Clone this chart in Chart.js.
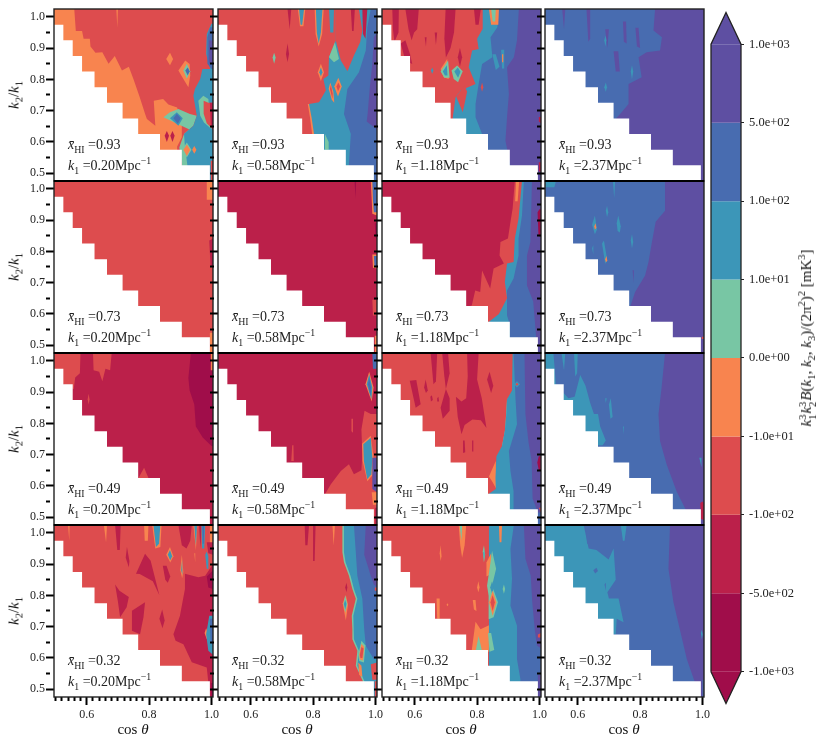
<!DOCTYPE html>
<html>
<head>
<meta charset="utf-8">
<title>Bispectrum contours</title>
<script src="https://cdn.jsdelivr.net/npm/chart.js@4"></script>
<style>
  html, body { margin: 0; padding: 0; background: #fff; }
  #stage { position: relative; width: 831px; height: 746px; overflow: hidden; font-family: "Liberation Serif", serif; color: #111; }
  #stage canvas { position: absolute; }
  .note, .axis-label { position: absolute; white-space: nowrap; }
  .note { font-size: 14px; line-height: 16px; color: #222; }
  .note sub, .note sup, .axis-label sub, .axis-label sup { font-size: 70%; line-height: 0; }
  .axis-label { font-size: 15px; transform: translate(-50%, -50%); }
  .axis-label.rot { transform: translate(-50%, -50%) rotate(-90deg); }
  .ss { display: inline-block; vertical-align: middle; font-size: 70%; line-height: 10px; text-align: left; margin-right: 1px; }
  .ss span { display: block; }
</style>
</head>
<body>
<div id="stage"></div>
<script>
// ─── Levels and labels ───
const bandColors = ['#A00D4A', '#BB204A', '#DD4C4E', '#F8844F', '#78C6A4', '#3C96B8', '#486CB0', '#5E4FA2'];
const cbarLabels = ['-1.0e+03', '-5.0e+02', '-1.0e+02', '-1.0e+01', '0.0e+00', '1.0e+01', '1.0e+02', '5.0e+02', '1.0e+03'];
const xhiValues = ['0.93', '0.73', '0.49', '0.32'];
const k1Values = ['0.20', '0.58', '1.18', '2.37'];
const xTicks = [0.5, 0.52, 0.54, 0.56, 0.58, 0.6, 0.62, 0.64, 0.66, 0.68, 0.7, 0.72, 0.74, 0.76, 0.78, 0.8, 0.82, 0.84, 0.86, 0.88, 0.9, 0.92, 0.94, 0.96, 0.98, 1.0];
const xMajor = [0.6, 0.8, 1.0];
const yTicks = [0.5, 0.55, 0.6, 0.65, 0.7, 0.75, 0.8, 0.85, 0.9, 0.95, 1.0];
const yMajor = [0.5, 0.6, 0.7, 0.8, 0.9, 1.0];

// no-data staircase: cos theta edge of each k2/k1 step
const maskCos = [0.525, 0.555, 0.585, 0.625, 0.665, 0.715, 0.765, 0.835, 0.905, 0.995];
const maskK = [0.975, 0.925, 0.875, 0.825, 0.775, 0.725, 0.675, 0.625, 0.575, 0.525];

// ─── Contours ───
// each entry: [level index, cos,k, cos,k, ...] in thousandths, painted in order
const baseLevels = [2, 2, 2, 6, 2, 1, 1, 6, 1, 1, 2, 6, 2, 2, 2, 6];

const c093_020 = [
  [3, 495,1025, 560,1025, 565,955, 585,955, 590,930, 610,930, 612,905, 628,885, 650,887, 670,850, 690,875, 713,828, 735,840, 750,800, 770,743, 787,690, 793,673, 820,652, 815,732, 845,737, 862,720, 890,710, 905,660, 905,615, 890,585, 890,475, 495,475],
  [3, 695,1025, 700,1025, 698,965],
  [3, 855,865, 867,885, 877,865, 867,845],
  [1, 850,620, 857,635, 864,620, 857,600],
  [1, 868,620, 875,635, 882,620, 875,600],
  [3, 894,828, 916,860, 930,849, 932,812, 926,775, 910,801],
  [4, 910,828, 921,850, 932,826, 921,802],
  [6, 916,828, 924,838, 930,826, 924,812],
  [4, 846,679, 867,695, 894,705, 931,689, 953,684, 942,652, 912,625, 897,582, 905,530, 905,475, 925,475, 925,580, 960,625],
  [5, 1000,978, 985,945, 983,881, 996,833, 971,833, 964,801, 947,769, 942,748, 953,684, 942,652, 912,625, 915,585, 923,524, 923,475, 1005,475, 1005,978],
  [6, 996,967, 987,935, 987,850, 1000,833, 1005,833, 1005,967],
  [7, 993,924, 993,850, 1005,850, 1005,924],
  [5, 867,676, 889,695, 908,676, 894,652],
  [6, 878,676, 889,690, 902,676, 892,658],
  [4, 958,732, 974,748, 990,737, 1000,641, 976,662, 964,684],
  [2, 975,732, 990,725, 1005,725, 1005,640, 985,660, 975,690],
  [1, 995,725, 1005,725, 1005,640, 998,650],
  [4, 906,575, 921,598, 936,575, 921,550],
  [3, 910,575, 921,592, 932,575, 921,555],
  [3, 938,575, 945,587, 952,575, 945,562],
  [2, 998,540, 1005,540, 1005,475, 998,475]
];
const c093_058 = [
  [1, 718,1025, 730,1025, 725,960],
  [3, 751,1025, 775,1025, 769,970, 758,970],
  [5, 755,1025, 771,1025, 765,975, 760,975],
  [3, 805,1025, 834,1025, 829,945, 818,905, 808,945],
  [5, 809,1025, 830,1025, 825,950, 818,915, 812,950],
  [5, 851,1025, 867,1025, 865,950, 855,950],
  [1, 713,881, 718,915, 723,881, 718,855],
  [4, 670,870, 675,885, 680,870, 675,850],
  [3, 783,721, 790,679, 797,625, 810,625, 810,721],
  [5, 873,924, 851,871, 849,812, 833,801, 841,764, 819,727, 787,721, 795,679, 803,625, 803,475, 1005,475, 1005,1025, 873,1025],
  [2, 873,924, 889,860, 910,826, 931,876, 951,919, 958,956, 947,1025, 873,1025],
  [1, 921,1025, 934,1025, 930,955, 925,955],
  [1, 958,1025, 974,1025, 968,930, 960,945],
  [6, 985,1025, 974,967, 969,892, 947,823, 910,769, 899,689, 921,625, 915,529, 915,475, 1005,475, 1005,1025],
  [7, 1005,950, 995,935, 990,850, 982,775, 975,690, 972,665, 1005,640],
  [3, 815,823, 825,850, 835,823, 825,795],
  [5, 820,823, 825,838, 830,823, 825,810],
  [3, 868,777, 881,805, 892,777, 880,745],
  [2, 875,777, 881,790, 887,777, 880,762],
  [3, 850,770, 855,790, 865,760, 868,725, 860,735],
  [2, 854,770, 857,782, 863,755, 862,738],
  [4, 851,871, 870,919, 883,865, 867,855],
  [4, 838,625, 850,600, 850,575, 838,575]
];
const c093_118 = [
  [1, 528,1025, 549,1025, 548,950, 535,920, 530,960],
  [1, 570,1025, 613,1025, 608,960, 598,950, 590,925, 580,960],
  [1, 555,915, 570,925, 585,880, 592,849, 570,860],
  [1, 699,1025, 731,1025, 726,950, 715,900, 700,870, 695,930],
  [1, 738,871, 745,900, 752,871, 745,840],
  [1, 790,1025, 812,1025, 805,975, 795,975],
  [1, 632,935, 638,935, 636,905],
  [1, 664,950, 672,950, 668,910],
  [5, 818,1025, 818,962, 800,930, 805,897, 784,892, 773,839, 795,785, 747,764, 731,743, 722,679, 722,475, 1005,475, 1005,1025],
  [2, 733,745, 754,695, 768,760, 760,780],
  [6, 870,1025, 865,967, 843,935, 849,871, 816,849, 805,785, 795,721, 795,679, 816,625, 835,575, 835,475, 1005,475, 1005,1025],
  [5, 849,880, 860,880, 872,840, 860,830],
  [3, 838,1025, 870,1025, 868,975, 845,975],
  [4, 845,1025, 860,1025, 858,985, 850,985],
  [3, 683,833, 704,865, 709,801, 693,807],
  [4, 683,825, 707,860, 712,805, 695,805],
  [5, 690,825, 703,845, 705,812, 697,812],
  [4, 718,828, 736,844, 754,826, 739,791, 725,801],
  [5, 727,825, 738,838, 747,824, 739,805],
  [5, 652,828, 656,838, 660,828, 656,818],
  [5, 877,895, 887,895, 887,835, 880,835],
  [3, 880,880, 884,880, 884,855, 880,855],
  [2, 812,775, 816,790, 820,775, 816,760],
  [7, 934,1025, 928,925, 918,871, 896,839, 902,753, 896,679, 891,604, 907,524, 907,475, 1005,475, 1005,1025],
  [1, 998,680, 1005,680, 1005,660, 998,665],
  [1, 998,535, 1005,535, 1005,505, 998,505]
];
const c093_237 = [
  [7, 848,1025, 843,956, 870,935, 864,892, 821,887, 795,871, 805,807, 763,785, 763,721, 736,689, 722,674, 722,475, 1005,475, 1005,1025],
  [7, 550,1025, 560,1025, 556,960],
  [7, 628,1025, 640,1025, 640,930, 634,920],
  [7, 688,960, 700,960, 695,900],
  [7, 715,890, 730,890, 735,825, 722,825],
  [7, 745,985, 755,985, 757,915, 748,920],
  [7, 785,965, 795,965, 800,900, 790,905],
  [5, 770,825, 774,845, 778,825, 774,800],
  [5, 685,925, 689,940, 692,925, 689,905],
  [5, 685,775, 690,790, 694,775, 690,760]
];
const c073_020 = [
  [3, 985,1025, 1005,1025, 1005,965, 985,965],
  [1, 993,835, 1005,840, 1005,750, 997,755],
  [3, 995,540, 1005,540, 1005,475, 995,475]
];
const c073_058 = [
  [3, 985,1025, 1005,1025, 1005,915, 990,920, 988,965],
  [6, 990,1025, 1005,1025, 1005,925, 995,925, 992,965],
  [3, 990,790, 1005,790, 1005,745, 992,748],
  [6, 995,785, 1005,785, 1005,750, 997,752],
  [2, 990,645, 1005,645, 1005,595, 992,595],
  [0, 933,1025, 938,1025, 936,970],
  [0, 998,890, 1005,890, 1005,840, 1000,845],
  [3, 998,530, 1005,530, 1005,475, 998,475]
];
const c073_118 = [
  [2, 921,1025, 914,937, 907,894, 899,841, 875,830, 872,787, 886,761, 853,745, 842,681, 816,739, 810,670, 794,675, 783,627, 765,622, 765,475, 1005,475, 1005,1025],
  [3, 925,1025, 935,1025, 930,960, 922,960],
  [5, 944,1025, 933,905, 921,841, 917,766, 896,761, 889,702, 896,650, 870,600, 837,574, 837,475, 1005,475, 1005,1025],
  [6, 950,1025, 944,915, 933,841, 933,787, 917,713, 896,675, 896,595, 905,566, 905,475, 1005,475, 1005,1025],
  [7, 976,1025, 971,830, 960,787, 960,691, 980,640, 990,520, 990,475, 1005,475, 1005,1025],
  [0, 994,925, 1000,935, 1005,935, 1005,845, 997,850]
];
const c073_237 = [
  [7, 880,1025, 880,930, 850,895, 838,830, 827,766, 816,723, 784,670, 768,622, 768,475, 1005,475, 1005,1025],
  [5, 646,885, 655,915, 662,870, 655,855],
  [3, 653,880, 657,890, 660,875, 655,870],
  [5, 690,930, 694,945, 698,925, 694,910],
  [5, 725,890, 730,915, 738,880, 735,860, 728,865],
  [5, 770,835, 774,855, 778,830, 774,810],
  [5, 678,825, 684,835, 695,770, 688,760],
  [3, 688,775, 692,785, 695,770, 690,765],
  [5, 646,810, 650,820, 650,790],
  [5, 713,1025, 720,1025, 717,970],
  [5, 495,1025, 530,1025, 525,1005, 495,1005],
  [7, 776,740, 780,740, 779,700],
  [2, 998,527, 1005,527, 1005,520, 998,520]
];
const c049_020 = [
  [2, 495,1025, 580,1025, 578,960, 563,947, 558,909, 525,925, 495,975],
  [2, 620,1025, 680,1025, 675,970, 660,975, 650,935, 640,965, 622,970],
  [0, 934,1025, 926,945, 930,905, 945,860, 950,790, 972,755, 1000,728, 1005,728, 1005,1025],
  [3, 998,1025, 1005,1025, 1005,970, 998,970],
  [2, 603,877, 606,895, 609,877, 606,860],
  [2, 766,625, 784,658, 798,625]
];
const c049_058 = [
  [2, 839,575, 857,605, 889,648, 915,669, 931,637, 955,650, 958,700, 955,780, 965,840, 985,830, 1005,830, 1005,475, 839,475],
  [2, 923,815, 928,815, 928,770, 923,775],
  [2, 733,730, 737,730, 738,680, 730,680],
  [3, 957,735, 985,760, 994,690, 991,635, 974,615, 959,680],
  [5, 961,733, 985,754, 990,690, 987,637, 974,621, 963,680],
  [7, 990,690, 1005,690, 1005,580, 990,590],
  [3, 968,925, 980,965, 994,915, 988,870],
  [5, 972,925, 980,957, 990,915, 987,877],
  [6, 976,925, 980,945, 986,915, 984,890],
  [6, 990,1025, 1005,1025, 1005,975, 992,975],
  [3, 988,580, 1005,580, 1005,540, 992,540],
  [1, 998,530, 1005,530, 1005,475, 998,475]
];
const c049_118 = [
  [1, 651,1025, 672,1025, 668,935, 660,925],
  [1, 688,1025, 707,1025, 712,960, 700,910, 695,950],
  [1, 768,1025, 805,1025, 800,940, 815,880, 830,785, 812,810, 785,812, 760,795, 750,765, 738,820, 732,885, 750,870, 765,880, 770,950],
  [1, 584,936, 605,939, 619,861, 603,850],
  [1, 630,915, 635,940, 642,905, 636,897],
  [1, 700,910, 712,880, 712,840, 690,815, 683,850],
  [1, 832,940, 840,965, 852,920, 845,897],
  [1, 650,885, 655,890, 658,875, 652,870],
  [1, 672,880, 676,885, 678,870, 672,870],
  [1, 755,745, 760,745, 762,708, 755,705],
  [1, 784,745, 788,745, 788,710, 784,710],
  [3, 838,630, 860,680, 862,590, 848,615],
  [4, 890,780, 896,877, 902,882, 898,780, 886,728, 880,728],
  [5, 914,1025, 912,905, 896,877, 893,820, 889,776, 880,728, 862,695, 859,625, 860,590, 838,575, 838,475, 1005,475, 1005,1025],
  [6, 917,1025, 921,936, 923,883, 928,797, 902,712, 907,648, 917,583, 917,475, 1005,475, 1005,1025],
  [7, 952,1025, 955,830, 965,740, 975,680, 978,560, 995,515, 1005,515, 1005,1025],
  [0, 993,675, 998,695, 1005,695, 1005,650, 998,650],
  [5, 918,925, 928,935, 938,925, 928,915],
  [2, 923,925, 928,930, 933,925, 928,920],
  [2, 998,530, 1005,530, 1005,515]
];
const c049_237 = [
  [5, 495,1025, 522,1025, 530,925, 570,880, 590,885, 608,955, 625,920, 640,865, 652,830, 665,830, 672,790, 690,745, 680,730, 600,730, 495,730],
  [5, 588,1025, 600,1025, 598,960, 592,950],
  [5, 548,1025, 560,1025, 556,970],
  [5, 700,860, 706,880, 712,820, 705,815],
  [5, 745,790, 748,790, 748,765],
  [5, 688,880, 693,880, 690,865],
  [7, 880,1025, 869,915, 859,829, 864,744, 885,669, 917,583, 949,519, 949,475, 1005,475, 1005,1025],
  [5, 990,690, 997,690, 997,660],
  [1, 993,545, 1000,550, 1005,545, 1005,490, 995,495]
];
const c032_020 = [
  [3, 540,1025, 545,1025, 544,975],
  [3, 655,1025, 665,1025, 662,970],
  [3, 784,1025, 798,1025, 796,975, 786,975],
  [3, 810,1025, 840,1025, 836,955, 820,950],
  [5, 814,1025, 836,1025, 832,965, 822,955],
  [1, 691,1025, 709,1025, 706,945, 698,945],
  [1, 729,955, 737,910, 735,890, 725,920],
  [1, 758,869, 787,933, 805,911, 833,800, 812,845, 770,868],
  [1, 691,835, 705,815, 735,795, 728,762, 707,730, 700,780],
  [1, 745,751, 787,778, 782,730, 771,676, 745,687],
  [1, 833,725, 842,755, 850,720, 843,695],
  [1, 844,895, 856,895, 868,860, 860,840, 852,850],
  [1, 894,1025, 937,1025, 932,975, 920,950, 905,960],
  [1, 878,676, 899,735, 915,820, 915,869, 958,858, 980,863, 1005,900, 1005,475, 996,475, 990,521, 985,569, 937,586, 910,644, 885,655],
  [0, 985,860, 1005,880, 1005,820, 990,825],
  [0, 998,520, 1005,520, 1005,475, 998,475],
  [3, 978,680, 983,695, 990,676, 985,660],
  [5, 993,735, 1005,735, 1005,610, 990,623, 983,676],
  [6, 995,725, 1005,725, 1005,640, 997,650],
  [3, 855,930, 867,955, 878,925, 868,905],
  [5, 860,930, 867,945, 874,925, 868,912],
  [3, 900,880, 905,930, 910,875, 906,855],
  [5, 903,880, 906,915, 908,875, 906,865],
  [3, 942,1025, 955,1025, 950,945],
  [5, 945,1025, 954,1025, 950,960],
  [1, 960,1025, 968,1025, 965,950],
  [5, 968,1025, 980,1025, 977,950, 970,950],
  [6, 971,1025, 977,1025, 975,965, 972,965],
  [5, 980,930, 985,940, 990,925, 990,885, 985,885],
  [3, 945,935, 948,935, 948,905],
  [3, 995,1025, 1005,1025, 1005,965, 995,965],
  [1, 985,970, 1005,970, 1005,930, 990,935]
];
const c032_058 = [
  [1, 773,1025, 787,1025, 782,960, 775,960],
  [1, 800,1025, 808,1025, 805,910, 800,910],
  [3, 862,1025, 870,1025, 866,960],
  [1, 903,825, 907,840, 910,825, 907,810],
  [4, 894,1025, 894,938, 899,906, 915,863, 926,820, 937,789, 924,735, 926,692, 926,660, 942,623, 937,575, 959,527, 970,475, 1005,475, 1005,1025],
  [5, 899,1025, 899,938, 904,906, 920,863, 931,820, 942,789, 929,735, 931,692, 931,660, 947,623, 942,575, 964,527, 975,475, 1005,475, 1005,1025],
  [6, 931,1025, 937,938, 942,863, 958,789, 964,692, 969,639, 995,596, 1005,600, 1005,1025],
  [7, 969,1025, 964,930, 985,863, 995,835, 1005,825, 1005,1025],
  [3, 895,775, 905,800, 912,770, 905,720],
  [4, 897,772, 903,800, 910,772, 903,745],
  [5, 899,772, 903,785, 907,772, 903,755],
  [4, 945,610, 955,655, 968,640, 963,585, 948,590],
  [3, 948,610, 955,645, 964,635, 960,592, 950,595],
  [2, 950,610, 955,635, 962,630, 958,600, 952,600],
  [2, 985,580, 1005,585, 1005,530, 990,530],
  [2, 998,525, 1005,525, 1005,475, 998,475],
  [3, 945,585, 955,575, 958,540, 948,545],
  [2, 998,825, 1005,825, 1005,815, 998,815]
];
const c032_118 = [
  [3, 741,1025, 765,1025, 760,960, 752,920, 746,960],
  [4, 744,1025, 752,1025, 750,975],
  [3, 680,935, 683,960, 686,925, 683,910],
  [3, 800,825, 804,845, 808,825, 804,810],
  [3, 786,785, 795,785, 798,750, 790,755],
  [3, 702,770, 705,775, 708,770, 705,765],
  [3, 670,790, 680,790, 680,725, 672,725],
  [3, 783,625, 795,716, 811,692, 840,705, 840,620],
  [4, 796,625, 805,670, 815,625],
  [4, 818,940, 822,960, 826,930, 822,905],
  [5, 820,938, 822,950, 824,930, 822,915],
  [5, 838,1025, 1005,1025, 1005,475, 838,475],
  [3, 870,1025, 880,1025, 878,970, 872,970],
  [3, 830,905, 845,935, 848,870, 830,860],
  [4, 848,943, 861,885, 848,831, 867,778, 853,730, 837,724, 837,799, 832,831, 843,906],
  [5, 842,825, 848,845, 854,825, 848,805],
  [3, 838,778, 850,815, 862,778, 850,735],
  [2, 843,778, 850,800, 857,778, 850,750],
  [4, 835,680, 845,680, 855,625, 840,620],
  [6, 918,1025, 907,949, 912,853, 907,767, 928,703, 928,596, 939,532, 939,475, 1005,475, 1005,1025],
  [7, 950,1025, 955,917, 972,863, 977,778, 985,690, 992,640, 1005,630, 1005,1025],
  [7, 995,545, 1005,545, 1005,475, 995,475],
  [2, 995,675, 1005,680, 1005,665, 995,665],
  [4, 882,820, 886,835, 890,820, 886,805]
];
const c032_237 = [
  [5, 495,1025, 619,1025, 635,950, 660,945, 699,915, 715,950, 722,850, 695,810, 700,790, 731,790, 747,714, 725,725, 722,676, 495,676],
  [5, 738,1025, 757,1025, 750,975, 745,975],
  [6, 625,1025, 640,1025, 637,965, 630,965],
  [6, 650,880, 660,888, 665,878, 656,870],
  [6, 686,835, 690,840, 690,815],
  [7, 896,1025, 891,885, 907,778, 950,596, 976,521, 976,475, 1005,475, 1005,1025],
  [5, 995,680, 998,690, 1001,675, 998,660],
  [6, 1000,530, 1005,530, 1005,475, 1000,475]
];

const panelContours = [
  c093_020, c093_058, c093_118, c093_237,
  c073_020, c073_058, c073_118, c073_237,
  c049_020, c049_058, c049_118, c049_237,
  c032_020, c032_058, c032_118, c032_237
];

// ─── Layout ───
const colLeft = [54, 218, 382, 545];
const rowTop = [9, 181, 353, 525];
const panelW = 159;
const panelH = 172;
const panelPad = 10;
const cosRange = [0.495, 1.005];
const kRange = [0.475, 1.025];

const stage = document.getElementById('stage');

function addCanvas(left, top, w, h) {
  const c = document.createElement('canvas');
  c.width = w;
  c.height = h;
  c.style.left = left + 'px';
  c.style.top = top + 'px';
  c.style.width = w + 'px';
  c.style.height = h + 'px';
  stage.appendChild(c);
  return c;
}

function addText(cls, left, top, html) {
  const d = document.createElement('div');
  d.className = cls;
  d.style.left = left + 'px';
  d.style.top = top + 'px';
  d.innerHTML = html;
  stage.appendChild(d);
}

function isIn(list, v) {
  return list.some(m => Math.abs(m - v) < 1e-6);
}

// flat thousandths -> {x, y} points
function toPoints(flat) {
  const pts = [];
  for (let i = 0; i < flat.length; i += 2) pts.push({ x: flat[i] / 1000, y: flat[i + 1] / 1000 });
  return pts;
}

function shape(points, color) {
  return {
    data: points,
    showLine: true,
    fill: 'shape',
    tension: 0,
    backgroundColor: color,
    borderColor: color,
    borderWidth: 0,
    pointRadius: 0
  };
}

function maskPoints() {
  const pts = [{ x: cosRange[0], y: maskK[0] }];
  maskCos.forEach((c, i) => {
    pts.push({ x: c, y: maskK[i] });
    pts.push({ x: c, y: i + 1 < maskK.length ? maskK[i + 1] : kRange[0] });
  });
  pts.push({ x: cosRange[0], y: kRange[0] });
  return pts;
}

// frame of a panel; rows share a heavier edge where they touch
function spinePlugin(row) {
  return {
    id: 'spine',
    afterDraw(chart) {
      const { ctx, chartArea: a } = chart;
      ctx.save();
      ctx.strokeStyle = '#222';
      ctx.lineWidth = 1.4;
      ctx.strokeRect(a.left, a.top, a.right - a.left, a.bottom - a.top);
      if (row > 0) {
        ctx.strokeStyle = '#000';
        ctx.lineWidth = 2.2;
        ctx.beginPath();
        ctx.moveTo(a.left, a.top);
        ctx.lineTo(a.right, a.top);
        ctx.stroke();
      }
      ctx.restore();
    }
  };
}

// ─── Panels ───
function drawPanel(row, col) {
  const idx = row * 4 + col;
  const firstCol = col === 0;
  const lastRow = row === 3;
  const marginL = firstCol ? 50 : 10;
  const marginB = lastRow ? 30 : 0;
  const w = marginL + panelW + 12;
  const h = panelPad + panelH + (lastRow ? marginB : panelPad);
  const canvas = addCanvas(colLeft[col] - marginL, rowTop[row] - panelPad, w, h);

  const full = [
    { x: cosRange[0], y: kRange[0] }, { x: cosRange[1], y: kRange[0] },
    { x: cosRange[1], y: kRange[1] }, { x: cosRange[0], y: kRange[1] }
  ];
  const datasets = [shape(full, bandColors[baseLevels[idx]])];
  panelContours[idx].forEach(p => datasets.push(shape(toPoints(p.slice(1)), bandColors[p[0]])));
  datasets.push(shape(maskPoints(), '#ffffff'));
  // Chart.js paints the last dataset first
  datasets.reverse();

  new Chart(canvas, {
    type: 'scatter',
    data: { datasets },
    plugins: [spinePlugin(row)],
    options: {
      responsive: false,
      animation: false,
      events: [],
      layout: { padding: { top: panelPad, right: 12, bottom: lastRow ? 0 : panelPad, left: 0 } },
      plugins: { legend: { display: false }, tooltip: { enabled: false } },
      scales: {
        x: {
          type: 'linear',
          display: lastRow,
          min: cosRange[0],
          max: cosRange[1],
          afterBuildTicks: a => { a.ticks = xTicks.map(v => ({ value: v })); },
          afterFit: s => { s.height = marginB; },
          border: { display: false },
          grid: {
            drawOnChartArea: false,
            tickLength: 8,
            tickWidth: 2,
            tickColor: '#000',
            tickBorderDash: c => (isIn(xMajor, c.tick.value) ? [] : [4, 100])
          },
          ticks: {
            autoSkip: false,
            maxRotation: 0,
            minRotation: 0,
            padding: 3,
            color: '#222',
            font: { family: 'Liberation Serif', size: 12 },
            callback: v => (isIn(xMajor, v) ? v.toFixed(1) : '')
          }
        },
        y: {
          type: 'linear',
          min: kRange[0],
          max: kRange[1],
          afterBuildTicks: a => { a.ticks = yTicks.map(v => ({ value: v })); },
          afterFit: s => { s.width = marginL; },
          border: { display: false },
          grid: {
            drawOnChartArea: false,
            tickLength: 8,
            tickWidth: 2,
            tickColor: '#000',
            tickBorderDash: c => (isIn(yMajor, c.tick.value) ? [] : [4, 100])
          },
          ticks: {
            display: firstCol,
            autoSkip: false,
            padding: 1,
            color: '#222',
            font: { family: 'Liberation Serif', size: 12 },
            callback: v => (isIn(yMajor, v) ? v.toFixed(1) : '')
          }
        }
      }
    }
  });

  // annotations
  const noteX = colLeft[col] + 14;
  addText('note', noteX, rowTop[row] + 128, `<i>x&#772;</i><sub>HI</sub> =${xhiValues[row]}`);
  addText('note', noteX, rowTop[row] + 149, `<i>k</i><sub>1</sub> =${k1Values[col]}Mpc<sup>&minus;1</sup>`);
  if (firstCol) {
    addText('axis-label rot', 14, rowTop[row] + panelH / 2, '<i>k</i><sub>2</sub>/<i>k</i><sub>1</sub>');
  }
  if (lastRow) {
    addText('axis-label', colLeft[col] + 79, 729, 'cos <i>&theta;</i>');
  }
}

for (let r = 0; r < 4; r++) {
  for (let c = 0; c < 4; c++) drawPanel(r, c);
}

// ─── Colorbar ───
function drawColorbar() {
  const canvas = addCanvas(700, 0, 110, 716);
  const top = cbarLabels.length - 1;
  const datasets = bandColors.map((color, i) => shape([
    { x: 0, y: i }, { x: 1, y: i }, { x: 1, y: i + 1 }, { x: 0, y: i + 1 }
  ], color));
  // extend arrows take the end colours
  datasets.push(shape([{ x: 0, y: 0 }, { x: 0.5, y: -0.405 }, { x: 1, y: 0 }], bandColors[0]));
  datasets.push(shape([{ x: 0, y: top }, { x: 0.5, y: top + 0.405 }, { x: 1, y: top }], bandColors[top - 1]));
  datasets.push({
    data: [{ x: 0, y: 0 }, { x: 0.5, y: -0.405 }, { x: 1, y: 0 }, { x: 1, y: top }, { x: 0.5, y: top + 0.405 }, { x: 0, y: top }, { x: 0, y: 0 }],
    showLine: true,
    fill: false,
    tension: 0,
    borderColor: '#222',
    borderWidth: 1.3,
    pointRadius: 0,
    clip: 4
  });
  datasets.reverse();

  new Chart(canvas, {
    type: 'scatter',
    data: { datasets },
    options: {
      responsive: false,
      animation: false,
      events: [],
      layout: { padding: { left: 11, top: 8, bottom: 12, right: 0 } },
      plugins: { legend: { display: false }, tooltip: { enabled: false } },
      scales: {
        x: { type: 'linear', display: false, min: 0, max: 1 },
        y: {
          type: 'linear',
          position: 'right',
          min: -0.405,
          max: top + 0.405,
          afterBuildTicks: a => { a.ticks = cbarLabels.map((_, i) => ({ value: i })); },
          afterFit: s => { s.width = 69; },
          border: { display: false },
          grid: { drawOnChartArea: false, tickLength: 3, tickWidth: 1, tickColor: '#222' },
          ticks: {
            autoSkip: false,
            padding: 5,
            color: '#222',
            font: { family: 'Liberation Serif', size: 12.5 },
            callback: v => cbarLabels[v]
          }
        }
      }
    }
  });

  addText('axis-label rot', 808, 338,
    '<i>k</i><span class="ss"><span>3</span><span>1</span></span>' +
    '<i>k</i><span class="ss"><span>3</span><span>2</span></span>' +
    '<i>B</i>(<i>k</i><sub>1</sub>, <i>k</i><sub>2</sub>, <i>k</i><sub>3</sub>)/(2&pi;<sup>2</sup>)<sup>2</sup> [mK<sup>3</sup>]');
}

drawColorbar();
</script>
</body>
</html>
